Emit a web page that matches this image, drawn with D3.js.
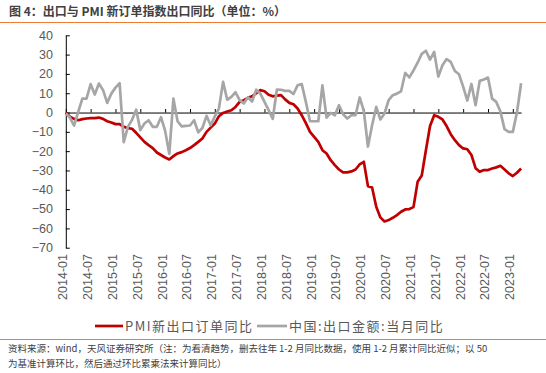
<!DOCTYPE html>
<html><head><meta charset="utf-8">
<script src="https://cdn.jsdelivr.net/npm/d3@7"></script>
<style>body{margin:0;background:#fff}svg{display:block}</style>
</head><body>
<svg id="c" width="546" height="373"></svg>
<script>
// ---- data ----
const startMonth = "2014-01";
const endMonth = "2023-03";
const tickLabels = ["2014-01","2014-07","2015-01","2015-07","2016-01","2016-07","2017-01","2017-07","2018-01","2018-07","2019-01","2019-07","2020-01","2020-07","2021-01","2021-07","2022-01","2022-07","2023-01"];
const yTicks = [40,30,20,10,0,-10,-20,-30,-40,-50,-60,-70];
const seriesNames = ["PMI新出口订单同比","中国:出口金额:当月同比"];
const pmiNewExportOrdersYoY = [
 0,-2.2,-3.3,-4,-3.4,-3.1,-2.9,-2.9,-2.6,-3.3,-4.5,-5.2,
 -6,-6,-7.4,-8.1,-8.4,-10.5,-12.9,-15.2,-16.9,-18.4,-20.7,-22,
 -23.3,-24.3,-22.6,-21.2,-20.5,-19.5,-18.4,-16.9,-15.2,-13.4,-10,-7.8,
 -5.7,-1.9,-0.2,0.5,1.2,2.9,5.5,6.4,7.6,8.4,10,11.6,
 11,9.2,8.4,8.8,9,6.8,5,4.3,2.1,-1.4,-5.5,-10,
 -12.6,-15.2,-19.5,-21.2,-24.7,-27.2,-29.5,-31,-31,-30.5,-29.5,-26.9,
 -25.5,-38.1,-38.8,-48.8,-54.3,-56.4,-55.7,-54.5,-53.1,-51.4,-50.2,-50,
 -49,-35.9,-32.6,-19.5,-7,-1.4,-2.2,-3.6,-7,-11.2,-14.3,-16.9,
 -18.6,-19,-22,-28.8,-30.7,-29.8,-29.8,-29,-28.4,-27.6,-29.5,-31.5,
 -32.9,-31.2,-29
];
const exportValueYoY = [
 -0.5,-2.6,-6.8,0.3,7.2,7.2,14.7,9.3,15,11.6,5,9.8,
 12.9,15.2,-15.4,-7.4,-3.8,1.5,-9.1,-5.7,-4,-7.4,-7.4,-2.4,
 -9.5,-21.4,7.2,-4.5,-7.2,-6.9,-6.7,-4,-10.3,-8,-1.7,-6.6,
 -2,2.2,15.9,6.6,8.1,10.5,6.4,4.7,7.9,5.7,11.8,9.8,
 5.5,1.2,-3.3,11.9,11.8,11.2,11.2,9.6,14.1,14.7,5.5,-4.5,
 -4.5,-4.5,14.1,-2.6,-0.2,-1.4,3.8,-0.9,-3.1,-1.4,-1.4,7.8,
 0.8,-17.6,-6.6,2.9,-3.6,-0.5,6.4,9,9.8,11,20.5,18.2,
 21.8,25.8,30.4,32,27.4,31.4,18.6,24.5,27.7,26.2,21.5,19.8,
 13.4,6.2,14.8,3.8,16.4,17.1,18.1,7.2,5.5,0.5,-8.6,-10,
 -10,0,15.2
];
const titleText = "图 4：出口与 PMI 新订单指数出口同比（单位：%）";
const noteLines = ["资料来源：wind，天风证券研究所（注：为看清趋势，删去往年 1-2 月同比数据，使用 1-2 月累计同比近似；以 50",
                   "为基准计算环比，然后通过环比累乘法来计算同比）"];

// ---- chart ----
const svg = d3.select("#c");
const W = 546;
const cjk = "'Noto Sans CJK SC','Noto Sans',sans-serif";
const latin = "'Liberation Sans',Arial,sans-serif";
const orange = "#ED7D31", red = "#C00000", grey = "#A6A6A6", txt = "#595959";

const parse = d3.utcParse("%Y-%m"), fmt = d3.utcFormat("%Y-%m");
const categories = d3.utcMonth.range(parse(startMonth), d3.utcMonth.offset(parse(endMonth), 1)).map(fmt);

const x = d3.scalePoint().domain(categories).range([65.8, 521.1]);
const y = d3.scaleLinear().domain([-70, 40]).range([247.7, 35.3]);

// title
svg.append("text").attr("x", 9).attr("y", 16)
  .attr("font-family", cjk).attr("font-weight", "bold").attr("font-size", 12)
  .attr("fill", "#404040").text(titleText);
svg.append("line").attr("x1", 0).attr("x2", W).attr("y1", 22.5).attr("y2", 22.5)
  .attr("stroke", orange).attr("stroke-width", 1.2);

// y axis
const ya = svg.append("g").attr("transform", `translate(${x(categories[0])},0)`)
  .call(d3.axisRight(y).tickValues(yTicks).tickSize(4).tickSizeOuter(0).tickFormat(""));
ya.selectAll("path,line").attr("stroke", "#000");
svg.append("g").selectAll("text").data(yTicks).join("text")
  .attr("x", 53).attr("y", d => y(d)).attr("dy", "0.35em")
  .attr("text-anchor", "end").attr("font-family", latin).attr("font-size", 12.5)
  .attr("fill", txt).text(d => d3.format("")(d));

// x axis at zero
const xa = svg.append("g").attr("transform", `translate(0,${y(0)})`)
  .call(d3.axisTop(x).tickValues(tickLabels).tickSize(3.5).tickSizeOuter(0).tickFormat(""));
xa.selectAll("path,line").attr("stroke", "#000");
svg.append("g").selectAll("text").data(tickLabels).join("text")
  .attr("transform", d => `translate(${x(d) - 3},254) rotate(-90)`)
  .attr("dy", "0.35em").attr("text-anchor", "end")
  .attr("font-family", latin).attr("font-size", 12.5).attr("fill", txt).text(d => d);

// lines
const line = d3.line().x((d, i) => x(categories[i])).y(d => y(d));
svg.append("path").datum(pmiNewExportOrdersYoY).attr("d", line)
  .attr("fill", "none").attr("stroke", red).attr("stroke-width", 2.7).attr("stroke-linejoin", "round");
svg.append("path").datum(exportValueYoY).attr("d", line)
  .attr("fill", "none").attr("stroke", grey).attr("stroke-width", 2.7).attr("stroke-linejoin", "round");

// legend
const lg = [{name: seriesNames[0], color: red, x0: 95, x1: 123, tx: 125},
            {name: seriesNames[1], color: grey, x0: 257, x1: 287, tx: 289}];
const L = svg.append("g");
L.selectAll("line").data(lg).join("line")
  .attr("x1", d => d.x0).attr("x2", d => d.x1).attr("y1", 326).attr("y2", 326)
  .attr("stroke", d => d.color).attr("stroke-width", 2.7);
L.selectAll("text").data(lg).join("text")
  .attr("x", d => d.tx).attr("y", 326).attr("dy", "0.36em")
  .attr("font-family", cjk).attr("font-size", 13).attr("letter-spacing", 1.5)
  .attr("fill", txt).text(d => d.name);

// bottom separator and note
svg.append("line").attr("x1", 0).attr("x2", W).attr("y1", 339.5).attr("y2", 339.5)
  .attr("stroke", orange).attr("stroke-width", 1.2);
svg.append("g").selectAll("text").data(noteLines).join("text")
  .attr("x", 8).attr("y", (d, i) => 351.5 + i * 15.5)
  .attr("font-family", cjk).attr("font-size", 9.5).attr("fill", "#404040").text(d => d);
</script>
</body></html>
